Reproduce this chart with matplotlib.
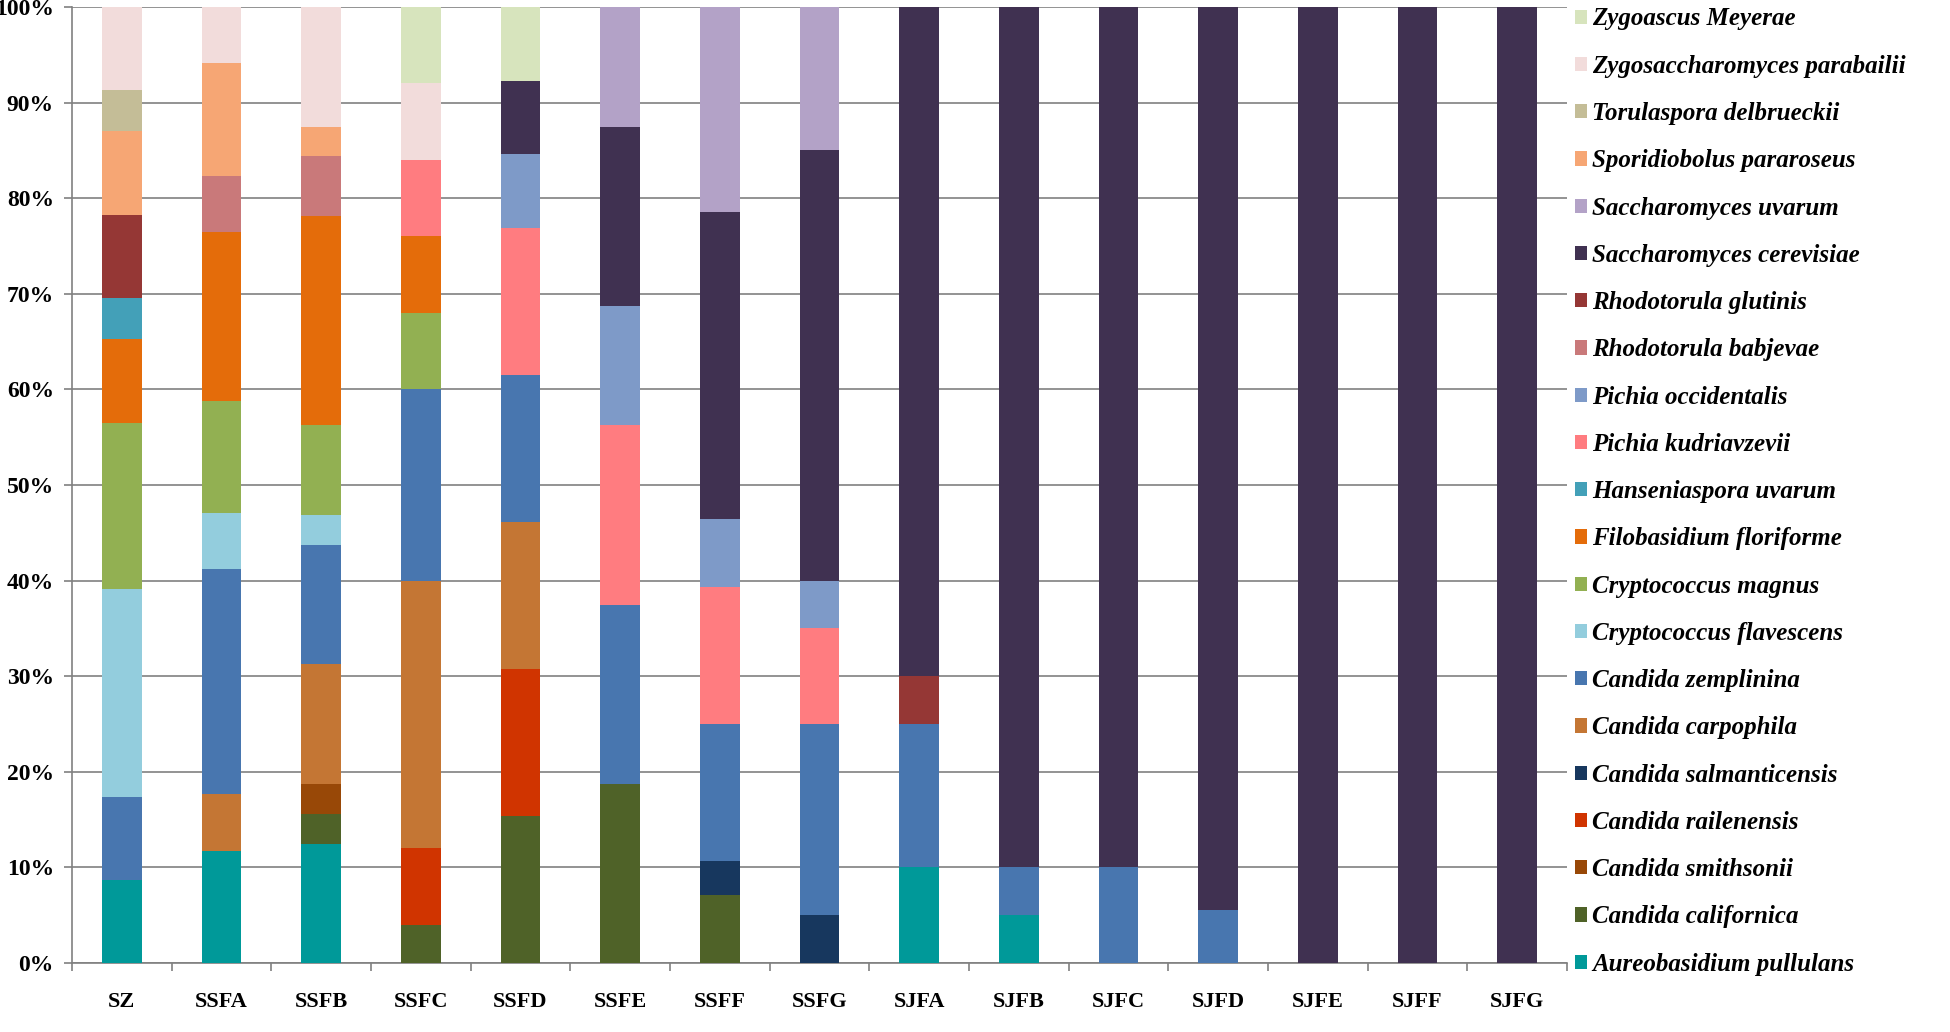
import numpy as np
import matplotlib
matplotlib.use('Agg')
import matplotlib.pyplot as plt
from matplotlib.ticker import FixedLocator, PercentFormatter

samples = ['SZ', 'SSFA', 'SSFB', 'SSFC', 'SSFD', 'SSFE', 'SSFF', 'SSFG',
           'SJFA', 'SJFB', 'SJFC', 'SJFD', 'SJFE', 'SJFF', 'SJFG']

# species in stacking order (bottom -> top), percent of isolates per sample
species = ['Aureobasidium pullulans', 'Candida californica', 'Candida smithsonii',
           'Candida railenensis', 'Candida salmanticensis', 'Candida carpophila',
           'Candida zemplinina', 'Cryptococcus flavescens', 'Cryptococcus magnus',
           'Filobasidium floriforme', 'Hanseniaspora uvarum', 'Pichia kudriavzevii',
           'Pichia occidentalis', 'Rhodotorula babjevae', 'Rhodotorula glutinis',
           'Saccharomyces cerevisiae', 'Saccharomyces uvarum', 'Sporidiobolus pararoseus',
           'Torulaspora delbrueckii', 'Zygosaccharomyces parabailii', 'Zygoascus Meyerae']

#                 SZ     SSFA   SSFB    SSFC  SSFD   SSFE   SSFF   SSFG  SJFA SJFB SJFC SJFD   SJFE SJFF SJFG
aureobasidium = [8.70, 11.76, 12.5,   0,    0,     0,     0,     0,    10,  5,   0,   0,     0,   0,   0]
c_californica = [0,    0,     3.125,  4,    15.38, 18.75, 7.14,  0,    0,   0,   0,   0,     0,   0,   0]
c_smithsonii  = [0,    0,     3.125,  0,    0,     0,     0,     0,    0,   0,   0,   0,     0,   0,   0]
c_railenensis = [0,    0,     0,      8,    15.38, 0,     0,     0,    0,   0,   0,   0,     0,   0,   0]
c_salmantic   = [0,    0,     0,      0,    0,     0,     3.57,  5,    0,   0,   0,   0,     0,   0,   0]
c_carpophila  = [0,    5.88,  12.5,   28,   15.38, 0,     0,     0,    0,   0,   0,   0,     0,   0,   0]
c_zemplinina  = [8.70, 23.53, 12.5,   20,   15.38, 18.75, 14.29, 20,   15,  5,   10,  5.56,  0,   0,   0]
cr_flavescens = [21.74, 5.88, 3.125,  0,    0,     0,     0,     0,    0,   0,   0,   0,     0,   0,   0]
cr_magnus     = [17.39, 11.76, 9.375, 8,    0,     0,     0,     0,    0,   0,   0,   0,     0,   0,   0]
filobasidium  = [8.70, 17.65, 21.875, 8,    0,     0,     0,     0,    0,   0,   0,   0,     0,   0,   0]
hanseniaspora = [4.35, 0,     0,      0,    0,     0,     0,     0,    0,   0,   0,   0,     0,   0,   0]
p_kudriavzevii = [0,   0,     0,      8,    15.38, 18.75, 14.29, 10,   0,   0,   0,   0,     0,   0,   0]
p_occidentalis = [0,   0,     0,      0,    7.69,  12.5,  7.14,  5,    0,   0,   0,   0,     0,   0,   0]
r_babjevae    = [0,    5.88,  6.25,   0,    0,     0,     0,     0,    0,   0,   0,   0,     0,   0,   0]
r_glutinis    = [8.70, 0,     0,      0,    0,     0,     0,     0,    5,   0,   0,   0,     0,   0,   0]
s_cerevisiae  = [0,    0,     0,      0,    7.69,  18.75, 32.14, 45,   70,  90,  90,  94.44, 100, 100, 100]
s_uvarum      = [0,    0,     0,      0,    0,     12.5,  21.43, 15,   0,   0,   0,   0,     0,   0,   0]
sporidiobolus = [8.70, 11.76, 3.125,  0,    0,     0,     0,     0,    0,   0,   0,   0,     0,   0,   0]
torulaspora   = [4.35, 0,     0,      0,    0,     0,     0,     0,    0,   0,   0,   0,     0,   0,   0]
zygosacch     = [8.70, 5.88,  12.5,   8,    0,     0,     0,     0,    0,   0,   0,   0,     0,   0,   0]
zygoascus     = [0,    0,     0,      8,    7.69,  0,     0,     0,    0,   0,   0,   0,     0,   0,   0]

values = [aureobasidium, c_californica, c_smithsonii, c_railenensis, c_salmantic,
          c_carpophila, c_zemplinina, cr_flavescens, cr_magnus, filobasidium,
          hanseniaspora, p_kudriavzevii, p_occidentalis, r_babjevae, r_glutinis,
          s_cerevisiae, s_uvarum, sporidiobolus, torulaspora, zygosacch, zygoascus]

colors = ['#009999', '#4F6228', '#984807', '#D03400', '#17375E', '#C47634',
          '#4876AF', '#93CDDD', '#92B052', '#E46C0A', '#43A0B8', '#FF7C80',
          '#7E9AC8', '#C9797A', '#953735', '#403151', '#B3A2C7', '#F6A674',
          '#C4BD97', '#F2DCDB', '#D7E4BD']

fig = plt.figure(figsize=(19.5, 10.32), dpi=100)
ax = fig.add_axes([72 / 1950, 1 - 963 / 1032, (1567 - 72) / 1950, (963 - 7) / 1032])

x = np.arange(len(samples))
bottom = np.zeros(len(samples))
handles = []
for name, vals, col in zip(species, values, colors):
    vals = np.array(vals, dtype=float)
    b = ax.bar(x, vals, 0.4, bottom=bottom, color=col, label=name, zorder=3)
    handles.append(b)
    bottom += vals

ax.set_xlim(-0.5, len(samples) - 0.5)
ax.set_ylim(0, 100)
ax.yaxis.set_major_locator(FixedLocator(np.arange(0, 101, 10)))
ax.yaxis.set_major_formatter(PercentFormatter(decimals=0))
ax.grid(axis='y', color='#808080', lw=1.2, zorder=0)

for s in ['top', 'right']:
    ax.spines[s].set_visible(False)
for s in ['left', 'bottom']:
    ax.spines[s].set_color('#808080')
    ax.spines[s].set_linewidth(1.2)

ax.set_xticks(x)
ax.set_xticklabels(samples)
ax.set_xticks(np.arange(-0.5, len(samples), 1), minor=True)
ax.tick_params(axis='x', which='major', length=0, pad=21)
ax.tick_params(axis='x', which='minor', length=6, width=1.2, color='#808080', direction='out')
ax.tick_params(axis='y', length=6, width=1.2, color='#808080', pad=7)

for lab in ax.get_xticklabels():
    lab.set_fontproperties(dict(family='Liberation Serif', weight='bold', size=16))
for lab in ax.get_yticklabels():
    lab.set_fontproperties(dict(family='Liberation Serif', weight='bold', size=17))

leg = ax.legend(handles[::-1], species[::-1], loc='upper left',
                bbox_to_anchor=(1567 / 1950, 1.0), bbox_transform=fig.transFigure,
                frameon=False, handlelength=0.5, handleheight=0.5, handletextpad=0.2,
                labelspacing=0.97, borderaxespad=0, borderpad=0.3,
                prop=dict(family='Liberation Serif', weight='bold', style='italic', size=18))

fig.savefig('out.png', dpi=100, facecolor='white')
